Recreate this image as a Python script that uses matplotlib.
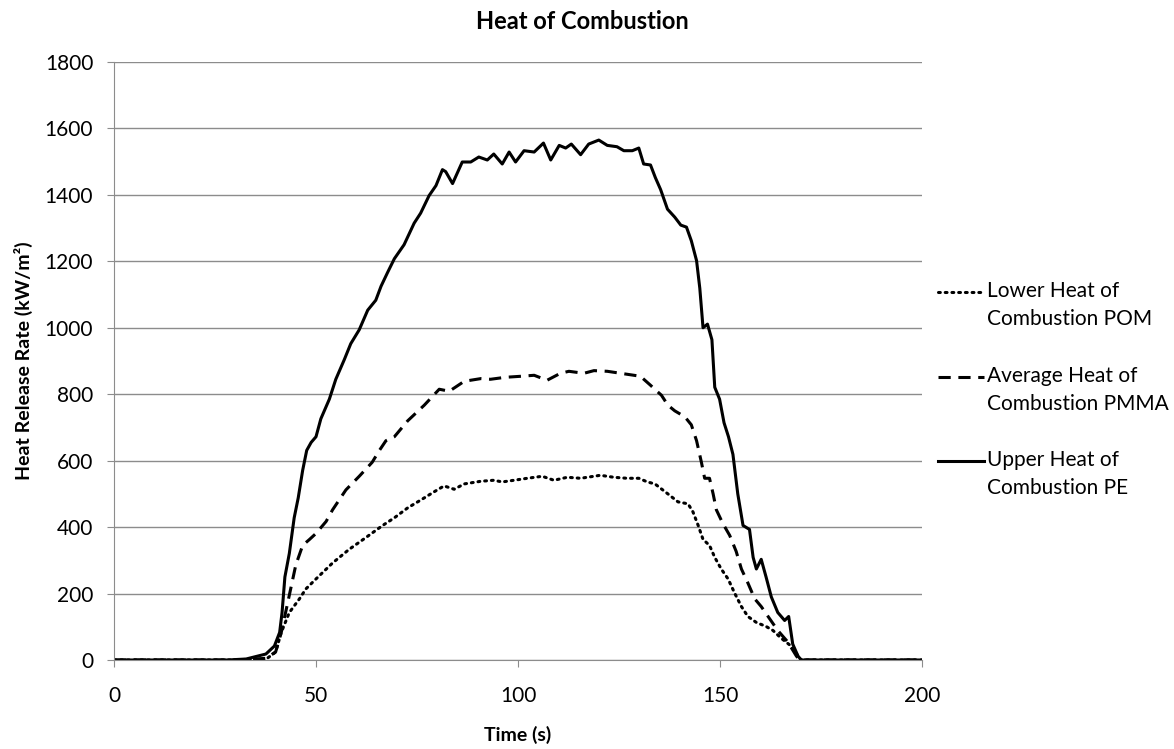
import numpy as np
import matplotlib.pyplot as plt
from matplotlib.lines import Line2D

plt.rcParams['font.family'] = ['Lato', 'DejaVu Sans']

# values (time in s, HRR in kW/m2)
t_pe = [0, 28, 32.7, 37.6, 39.7, 41, 41.6, 42.3, 43.4, 44.6, 45.6, 46.7, 47.7, 48.8, 50,
        51.2, 53.3, 54.9, 57, 58.6, 60.7, 62.8, 64.8, 66.1, 67.7, 69.4, 71.8, 74.3, 75.9,
        78, 79.7, 81.3, 82.1, 83.8, 86.2, 88.3, 90.3, 92.4, 94, 96.1, 97.8, 99.4, 101.5,
        104, 106.3, 108.1, 110.2, 111.8, 113.2, 115.5, 117.5, 120, 122.1, 124.5, 126.2,
        128.3, 129.9, 131.1, 132.8, 134, 135.3, 137, 138.8, 140.3, 141.7, 142.9, 144.2,
        145, 145.8, 146.9, 148, 148.7, 149.9, 151, 152.1, 153.2, 154.4, 155.7, 157.3,
        158.2, 159, 160.2, 161.4, 162.7, 164.3, 166, 167, 168, 169.3, 170.1, 200]
hrr_pe = [0, 0, 3, 18, 42, 83, 143, 250, 321, 428, 488, 571, 631, 655, 672,
          726, 785, 845, 904, 952, 994, 1053, 1083, 1125, 1166, 1208, 1250, 1315, 1345,
          1398, 1428, 1476, 1470, 1434, 1499, 1499, 1514, 1505, 1523, 1493, 1529, 1499, 1533,
          1529, 1556, 1505, 1549, 1541, 1553, 1521, 1553, 1565, 1549, 1545, 1533,
          1533, 1541, 1493, 1490, 1452, 1416, 1357, 1333, 1309, 1303, 1262, 1202,
          1119, 1000, 1011, 964, 821, 785, 714, 672, 619, 500, 405, 393,
          309, 274, 303, 250, 190, 143, 119, 131, 48, 12, 0, 0]

t_pmma = [0, 30, 37.6, 40, 41.4, 42.9, 45, 46.7, 48.4, 50, 52.5, 54.1, 57.4, 60.7, 63.9,
          65.7, 67.3, 69.4, 72.7, 76.8, 80.5, 83, 86.7, 90.8, 93.2, 96.9, 100.7, 104,
          107.2, 110.5, 112.6, 116.3, 118.8, 122.1, 125.4, 128.7, 130.3, 132.8, 134.4,
          135.5, 137.1, 138.8, 141.3, 142.9, 144.2, 145.4, 146.2, 147.4, 148.3, 149.1,
          150.7, 152.4, 154, 155.3, 156.9, 158.6, 160.2, 161.9, 164.3, 166.8, 168.9, 169.7, 200]
hrr_pmma = [0, 0, 5, 24, 83, 167, 286, 345, 363, 381, 417, 452, 512, 553, 595,
            631, 660, 672, 720, 767, 815, 809, 839, 847, 845, 851, 854, 857,
            842, 863, 869, 863, 871, 869, 863, 857, 854, 827, 809,
            797, 767, 750, 732, 708, 660, 595, 547, 547, 500, 452,
            411, 375, 327, 274, 232, 184, 161, 131, 89, 54, 12, 0, 0]

t_pom = [0, 30, 37.6, 40, 41.4, 43.4, 45.9, 47.5, 50, 54.1, 58.2, 62.4, 66.5, 69.4,
         72.7, 76, 79.2, 81.7, 84.2, 86.7, 90.8, 94, 96.1, 99, 102.3, 106, 108.9,
         112.2, 115.5, 120.4, 123.7, 127, 129.9, 132, 133.9, 137.1, 139.6, 142.1, 143.3,
         144.6, 145.8, 147.4, 148.7, 150.3, 152, 153.6, 155.3, 156.9, 159, 161.4, 163.1,
         165.2, 167.6, 169.3, 170.1, 200]
hrr_pom = [0, 0, 2, 24, 83, 143, 184, 214, 244, 292, 333, 369, 405, 428,
           458, 482, 506, 524, 514, 530, 538, 541, 536, 541, 547, 553, 541,
           550, 547, 556, 550, 547, 547, 536, 530, 500, 476, 470, 446,
           405, 363, 345, 309, 274, 244, 202, 161, 131, 113, 101, 89,
           65, 42, 12, 0, 0]

labels = ['Lower Heat of\nCombustion POM', 'Average Heat of\nCombustion PMMA',
          'Upper Heat of\nCombustion PE']

W, H = 1174, 749
fig = plt.figure(figsize=(W / 100, H / 100), dpi=100)
ax = fig.add_axes([114 / W, 1 - 660 / H, (922 - 114) / W, (660 - 62) / H])

styles = [dict(linestyle=(0, (0.6, 1.6)), dash_capstyle='round'),
          dict(linestyle=(0, (4, 2.5))),
          dict(linestyle='-')]
series = [(t_pom, hrr_pom), (t_pmma, hrr_pmma), (t_pe, hrr_pe)]
for (t, h), st in zip(series, styles):
    ax.plot(t, h, color='black', linewidth=2.2, **st)

ax.set_xlim(0, 200)
ax.set_ylim(0, 1800)
ax.set_xticks(np.arange(0, 201, 50))
ax.set_yticks(np.arange(0, 1801, 200))
ax.yaxis.grid(True, color='#8c8c8c', linewidth=1)
ax.set_axisbelow(True)
for s in ['top', 'right']:
    ax.spines[s].set_visible(False)
for s in ['left', 'bottom']:
    ax.spines[s].set_color('#8c8c8c')
ax.tick_params(axis='both', colors='#8c8c8c', labelcolor='black', labelsize=15, length=5)
ax.tick_params(axis='x', pad=14)
ax.tick_params(axis='y', pad=10)

fig.text(582 / W, 1 - 29 / H, 'Heat of Combustion', fontsize=17, fontweight='bold',
         ha='center', va='baseline')
fig.text(518 / W, 1 - 741 / H, 'Time (s)', fontsize=14, fontweight='bold',
         ha='center', va='baseline')
fig.text(23 / W, 1 - 361 / H, 'Heat Release Rate (kW/m\u00b2)', fontsize=14,
         fontweight='bold', rotation=90, ha='center', va='center')

# legend drawn by hand so the handle sits on the first label line
leg_y = [292, 377, 461]
for lab, st, y in zip(labels, styles, leg_y):
    yf = 1 - y / H
    fig.add_artist(Line2D([938 / W, 984 / W], [yf, yf], color='black',
                          linewidth=2.2, transform=fig.transFigure, **st))
    for k, line in enumerate(lab.split('\n')):
        fig.text(987 / W, 1 - (y + 5 + 28 * k) / H, line, fontsize=15,
                 ha='left', va='baseline')

fig.savefig('out.png', dpi=100)
